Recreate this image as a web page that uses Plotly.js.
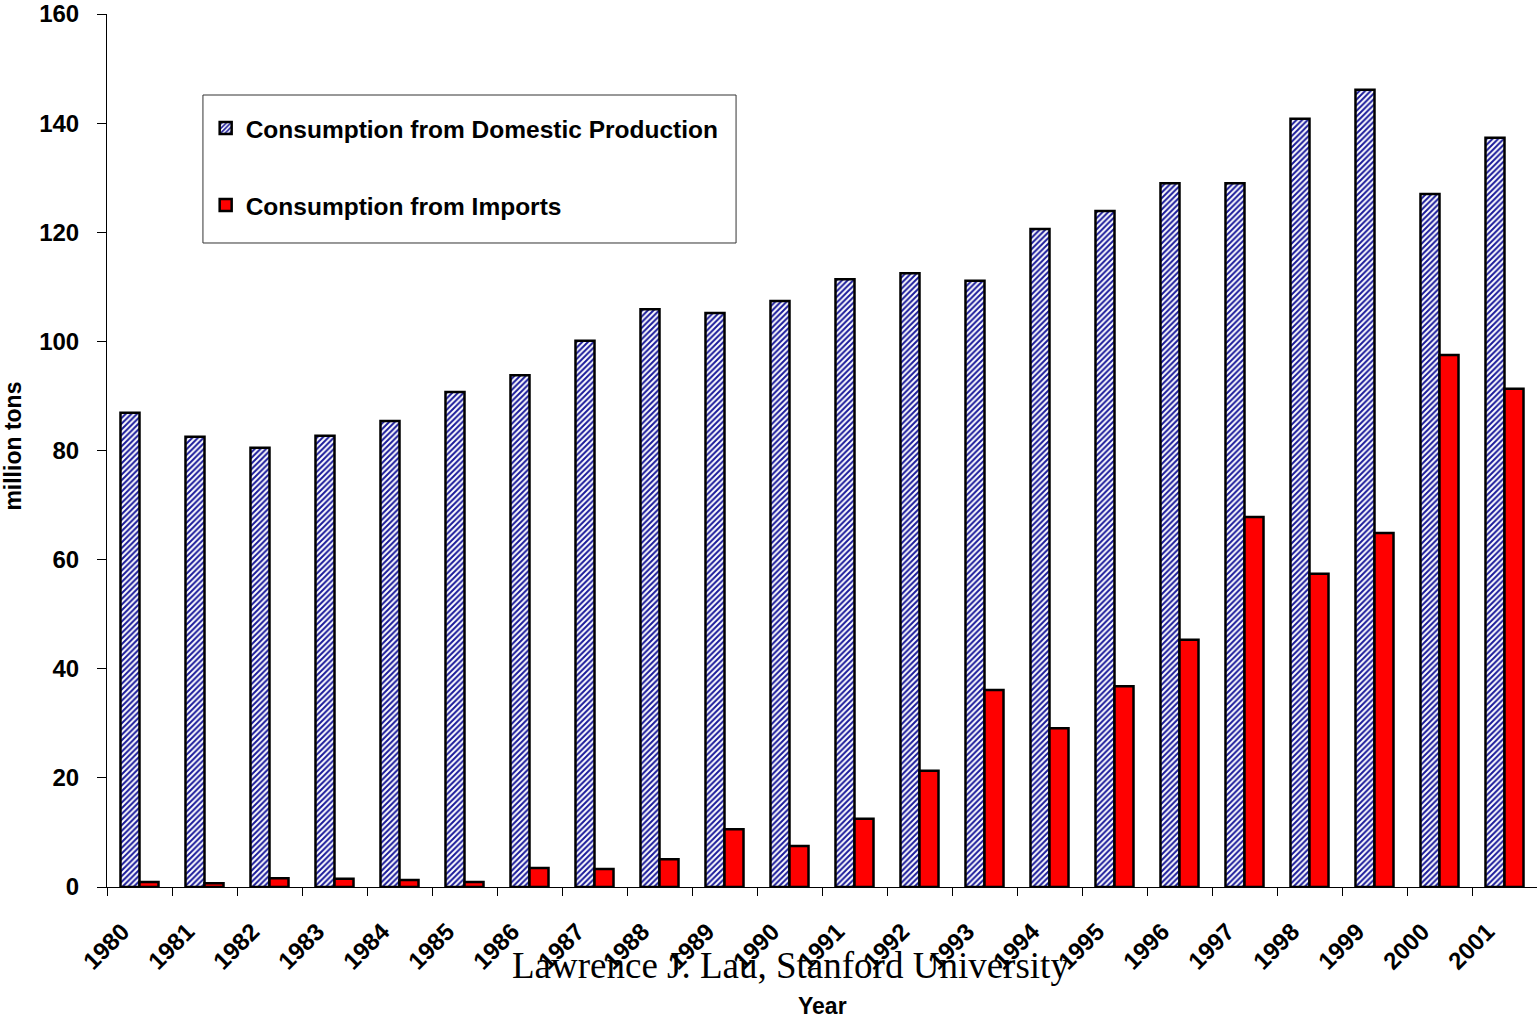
<!DOCTYPE html>
<html>
<head>
<meta charset="utf-8">
<script src="https://cdn.plot.ly/plotly-3.0.1.min.js"></script>
<style>html,body{margin:0;padding:0;background:#fff;}#chart{width:1537px;height:1022px;}</style>
</head>
<body>
<div id="chart"></div>
<script>
const years = ["1980","1981","1982","1983","1984","1985","1986","1987","1988","1989","1990","1991","1992","1993","1994","1995","1996","1997","1998","1999","2000","2001"];
const domestic = [86.9,82.5,80.5,82.7,85.4,90.7,93.8,100.1,105.9,105.2,107.4,111.4,112.5,111.1,120.6,123.9,129.0,129.0,140.8,146.1,127.0,137.3];
const imports = [0.9,0.7,1.6,1.5,1.3,0.9,3.5,3.3,5.1,10.6,7.5,12.5,21.3,36.1,29.1,36.8,45.3,67.8,57.4,64.9,97.5,91.3];
const yTicks = [0,20,40,60,80,100,120,140,160];

const FONT = "Arial, 'Liberation Sans', sans-serif";

const traces = [
  {
    type: "bar", x: years, y: domestic, name: "Consumption from Domestic Production",
    legendgroup: "a",
    marker: {
      color: "#ffffff",
      pattern: {shape: "/", fgcolor: "#1a1a9a", bgcolor: "#ffffff", size: 4, solidity: 0.5},
      line: {color: "#000000", width: 2.5}
    }
  },
  {
    type: "bar", x: years, y: imports, name: "Consumption from Imports",
    legendgroup: "b",
    marker: {color: "#ff0000", line: {color: "#000000", width: 2.5}}
  }
];

const layout = {
  width: 1537, height: 1022,
  margin: {l: 107, r: 0, t: 14, b: 135},
  paper_bgcolor: "#ffffff", plot_bgcolor: "#ffffff",
  barmode: "group", bargap: 0.415, bargroupgap: 0,
  font: {family: FONT, color: "#000", size: 24, weight: "bold"},
  showlegend: true,
  legend: {
    x: 0.069, y: 0.895, xanchor: "left", yanchor: "top",
    bgcolor: "rgba(0,0,0,0)", borderwidth: 0,
    font: {family: FONT, size: 24.5, weight: "bold", color: "#000"},
    tracegroupgap: 42, itemwidth: 30
  },
  shapes: [
    {type: "rect", xref: "paper", yref: "paper", x0: 0.0671, x1: 0.4399, y0: 0.9072, y1: 0.7377,
     line: {color: "#333333", width: 1}, fillcolor: "rgba(0,0,0,0)", layer: "below"}
  ],
  xaxis: {
    type: "category", tickson: "boundaries", ticks: "outside", ticklen: 8, tickcolor: "#000",
    showline: true, linecolor: "#000", linewidth: 1, showgrid: false, zeroline: false,
    tickangle: -45, ticklabelstandoff: 20, ticklabelshift: -17,
    tickfont: {family: FONT, size: 24, weight: "bold", color: "#000"},
    fixedrange: true
  },
  yaxis: {
    range: [0, 160], tickvals: yTicks, ticktext: yTicks.map(String),
    ticks: "outside", ticklen: 9, tickcolor: "#000", ticklabelstandoff: 13,
    showline: true, linecolor: "#000", linewidth: 1, showgrid: false, zeroline: false,
    tickfont: {family: FONT, size: 24, weight: "bold", color: "#000"}
  },
  annotations: [
    {text: "million tons", xref: "paper", yref: "paper", x: -0.0654, y: 0.505, xanchor: "center", yanchor: "middle",
     textangle: -90, showarrow: false, font: {family: FONT, size: 23, weight: "bold", color: "#000"}},
    {text: "Year", xref: "paper", yref: "paper", x: 0.5, y: -0.136, xanchor: "center", yanchor: "middle",
     showarrow: false, font: {family: FONT, size: 23, weight: "bold", color: "#000"}},
    {text: "Lawrence J. Lau, Stanford University", xref: "paper", yref: "paper", x: 0.478, y: -0.09, xanchor: "center", yanchor: "middle",
     showarrow: false, font: {family: "'Times New Roman', 'Liberation Serif', serif", size: 37, weight: "normal", color: "#000"}}
  ]
};

Plotly.newPlot("chart", traces, layout, {displayModeBar: false, staticPlot: true});
</script>
</body>
</html>
